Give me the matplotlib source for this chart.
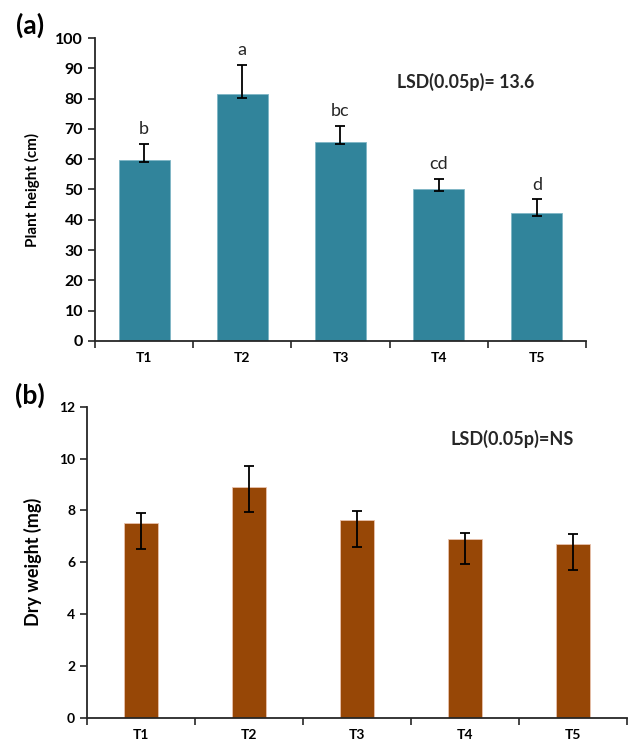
import numpy as np
import matplotlib as mpl
import matplotlib.pyplot as plt

mpl.rcParams.update({
    "font.family": ["Lato", "DejaVu Sans"],
    "axes.spines.top": False, "axes.spines.right": False,
})

treatments = ["T1", "T2", "T3", "T4", "T5"]

# (a) plant height, cm
height = [59.8, 81.4, 65.8, 50.3, 42.1]
height_lo = [0.7, 1.1, 0.9, 0.8, 0.8]
height_hi = [5.1, 9.6, 5.3, 3.1, 4.6]
height_letters = ["b", "a", "bc", "cd", "d"]

# (b) dry weight, mg
dry = [7.53, 8.89, 7.62, 6.90, 6.71]
dry_lo = [1.02, 0.97, 1.02, 0.98, 1.00]
dry_hi = [0.36, 0.84, 0.37, 0.23, 0.39]

AXC = "#262626"

fig = plt.figure(figsize=(6.3, 7.44), dpi=100)
axa = fig.add_axes([0.1508, 0.5417, 0.7792, 0.4072])
axb = fig.add_axes([0.138, 0.0353, 0.857, 0.4181])

x = np.arange(len(treatments))

def style(ax, ymax, ystep, ysize):
    ax.set_xlim(-0.5, len(treatments) - 0.5)
    ax.set_ylim(0, ymax)
    ax.set_yticks(np.arange(0, ymax + ystep / 2, ystep))
    ax.set_xticks(x)
    ax.set_xticklabels(treatments, fontweight="bold", fontsize=10)
    ax.set_xticks(np.arange(-0.5, len(treatments)), minor=True)
    ax.tick_params(axis="x", which="major", length=0, pad=8)
    ax.tick_params(axis="x", which="minor", length=5, width=1.2, color=AXC)
    ax.tick_params(axis="y", length=5, width=1.2, color=AXC, labelsize=ysize)
    for lab in ax.get_yticklabels():
        lab.set_fontweight("bold")
    for s in ("left", "bottom"):
        ax.spines[s].set_color(AXC)
        ax.spines[s].set_linewidth(1.3)

# panel (a)
axa.bar(x, height, 0.52, color="#31849B", edgecolor="#7fb6c6", linewidth=0.6, zorder=2)
axa.errorbar(x, height, yerr=[height_lo, height_hi], fmt="none", ecolor="black",
             elinewidth=1.3, capsize=3.5, capthick=1.3, zorder=3)
for xi, h, hi, let in zip(x, height, height_hi, height_letters):
    axa.annotate(let, (xi, h + hi), xytext=(0, 5), textcoords="offset points",
                 ha="center", va="bottom", fontsize=13, color="#262626")
style(axa, 100, 10, 11.5)
axa.set_ylabel("Plant height (cm)", fontweight="bold", fontsize=11)
axa.yaxis.set_label_coords(-0.112, 0.5)
axa.text(3.28, 85.5, "LSD(0.05p)= 13.6", ha="center", va="center",
         fontsize=12.8, fontweight="bold", color="#262626")

# panel (b)
axb.bar(x, dry, 0.31, color="#974706", edgecolor="#e8c2ad", linewidth=0.6, zorder=2)
axb.errorbar(x, dry, yerr=[dry_lo, dry_hi], fmt="none", ecolor="black",
             elinewidth=1.3, capsize=3.5, capthick=1.3, zorder=3)
style(axb, 12, 2, 10)
axb.set_ylabel("Dry weight (mg)", fontweight="bold", fontsize=13)
axb.yaxis.set_label_coords(-0.083, 0.5)
axb.text(3.44, 10.76, "LSD(0.05p)=NS", ha="center", va="center",
         fontsize=13, fontweight="bold", color="#262626")

fig.text(30 / 630, 1 - 25 / 744, "(a)", ha="center", va="center",
         fontsize=19, fontweight="bold")
fig.text(30 / 630, 1 - 395 / 744, "(b)", ha="center", va="center",
         fontsize=19, fontweight="bold")

fig.savefig("out.png", dpi=100)
